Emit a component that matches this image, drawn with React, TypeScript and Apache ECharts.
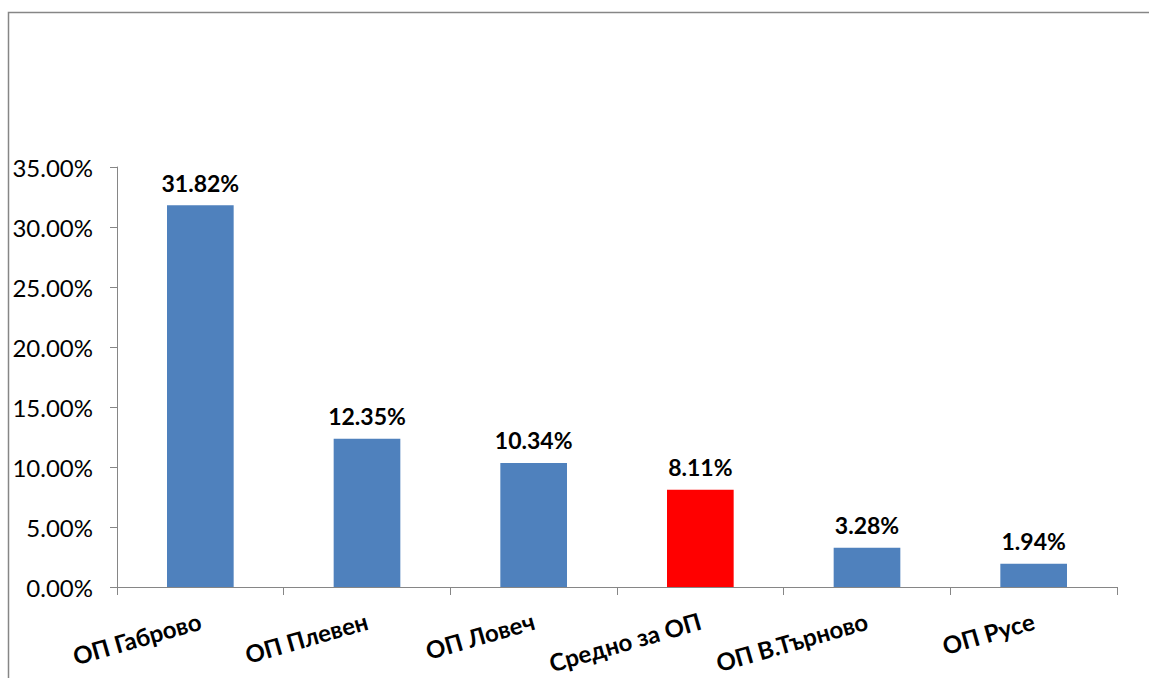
import React, { useEffect, useRef } from "react";
import * as echarts from "echarts";

const categories = ["ОП Габрово", "ОП Плевен", "ОП Ловеч", "Средно за ОП", "ОП В.Търново", "ОП Русе"];
const values = [31.82, 12.35, 10.34, 8.11, 3.28, 1.94];
const highlightCategory = "Средно за ОП";
const yTicks = [0, 5, 10, 15, 20, 25, 30, 35];

const FONT = "Lato, 'Open Sans', sans-serif";

export default function App() {
  const ref = useRef<HTMLDivElement>(null);
  useEffect(() => {
    const chart = echarts.init(ref.current!, null, { renderer: "svg" });
    chart.setOption({
      animation: false,
      backgroundColor: "#ffffff",
      grid: { left: 117, top: 167, width: 1000, height: 420, containLabel: false },
      graphic: [
        {
          type: "rect",
          shape: { x: 8.5, y: 12.5, width: 1300, height: 800 },
          style: { fill: "none", stroke: "#868686", lineWidth: 1.5 },
          silent: true,
        },
      ],
      xAxis: {
        type: "category",
        data: categories,
        axisLine: { lineStyle: { color: "#868686", width: 1 } },
        axisTick: { show: true, length: 8, alignWithLabel: false, lineStyle: { color: "#868686" } },
        axisLabel: {
          rotate: 16,
          margin: 33,
          color: "#000",
          fontFamily: FONT,
          fontWeight: "bold",
          fontSize: 24,
          interval: 0,
        },
      },
      yAxis: {
        type: "value",
        min: yTicks[0],
        max: yTicks[yTicks.length - 1],
        interval: 5,
        splitLine: { show: false },
        axisLine: { show: true, lineStyle: { color: "#868686", width: 1 } },
        axisTick: { show: true, length: 7, lineStyle: { color: "#868686" } },
        axisLabel: {
          margin: 24,
          color: "#000",
          fontFamily: FONT,
          fontSize: 24,
          formatter: (v: number) => v.toFixed(2) + "%",
        },
      },
      series: [
        {
          type: "bar",
          barWidth: "40%",
          data: values.map((v, i) => ({
            value: v,
            itemStyle: { color: categories[i] === highlightCategory ? "#FF0000" : "#4F81BD" },
          })),
          label: {
            show: true,
            position: "top",
            distance: 11,
            color: "#000",
            fontFamily: FONT,
            fontWeight: "bold",
            fontSize: 23,
            formatter: (p: any) => p.value.toFixed(2) + "%",
          },
        },
      ],
    });
    return () => chart.dispose();
  }, []);
  return (
    <div
      ref={ref}
      style={{ position: "fixed", left: 0, top: 0, width: 1149, height: 678 }}
    />
  );
}
